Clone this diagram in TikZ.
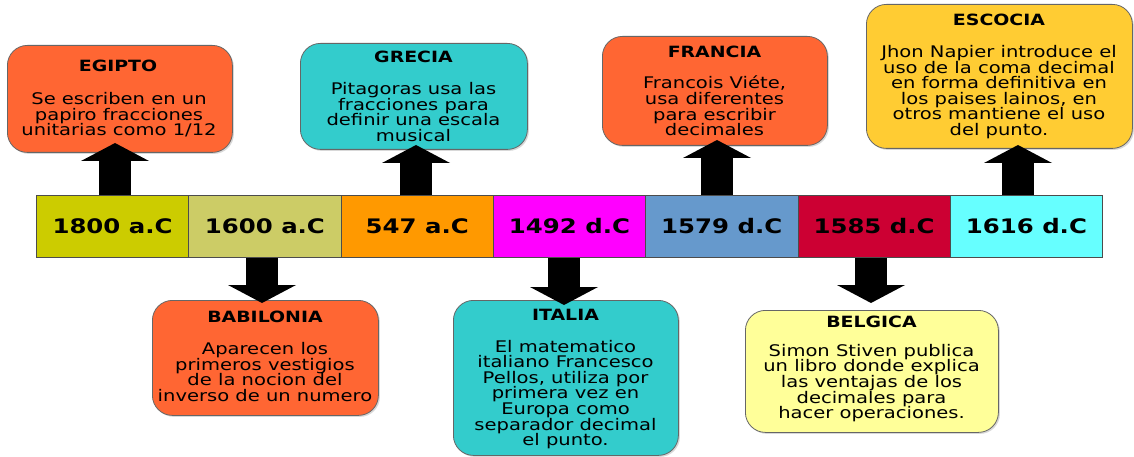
\documentclass[tikz,border=0pt]{standalone}
\usepackage{fontspec}
\setmainfont{DejaVu Sans}[FakeStretch=1.22]
\usetikzlibrary{arrows.meta,shadows}
\definecolor{corange}{HTML}{FF6633}
\definecolor{cteal}{HTML}{33CCCC}
\definecolor{cgold}{HTML}{FFCC33}
\definecolor{clight}{HTML}{FFFF99}
\definecolor{kA}{HTML}{CCCC00}
\definecolor{kB}{HTML}{CCCC66}
\definecolor{kC}{HTML}{FF9900}
\definecolor{kD}{HTML}{FF00FF}
\definecolor{kE}{HTML}{6699CC}
\definecolor{kF}{HTML}{CC0033}
\definecolor{kG}{HTML}{66FFFF}
\begin{document}
\begin{tikzpicture}[x=1pt,y=-1pt,
  cell/.style={draw=black!70, line width=0.8pt, minimum width=152.3pt, minimum height=62pt, inner sep=0pt, font=\bfseries\fontsize{20}{22}\selectfont, anchor=north west},
  infobox/.style={draw=black!60, line width=0.8pt, rounded corners=20pt, inner sep=0pt, anchor=north west, drop shadow={shadow xshift=1.5pt, shadow yshift=-1.5pt, opacity=0.3}},
  ttl/.style={font=\bfseries\fontsize{15.5}{17}\selectfont, inner sep=0pt},
  body/.style={font=\fontsize{16}{15.6}\selectfont, align=center, inner sep=0pt},
  bigarrow/.style={line width=32pt, -{Triangle[width=68pt,length=18pt,line width=0pt]}}
]
\useasboundingbox (0,0) rectangle (1134,457);
\fill[white] (0,0) rectangle (1134,457);

% timeline
\node[cell, fill=kA] (c1) at (36,195) {1800 a.C};
\node[cell, fill=kB] (c2) at (188.3,195) {1600 a.C};
\node[cell, fill=kC] (c3) at (340.6,195) {547 a.C};
\node[cell, fill=kD] (c4) at (492.9,195) {1492 d.C};
\node[cell, fill=kE] (c5) at (645.2,195) {1579 d.C};
\node[cell, fill=kF] (c6) at (797.5,195) {1585 d.C};
\node[cell, fill=kG] (c7) at (949.8,195) {1616 d.C};

% boxes top
\node[infobox, fill=corange, minimum width=225pt, minimum height=107pt] (bEG) at (7,45) {};
\node[ttl] (tiEG) at (118,66) {EGIPTO};
\node[body] (txEG) at (119,115) {Se escriben en un\\papiro fracciones\\unitarias como 1/12};

\node[infobox, fill=cteal, minimum width=227pt, minimum height=106pt] (bGR) at (300,43) {};
\node[ttl] (tiGR) at (413.5,57) {GRECIA};
\node[body] (txGR) at (413.5,112) {Pitagoras usa las\\fracciones para\\definir una escala\\musical};

\node[infobox, fill=corange, minimum width=225pt, minimum height=109pt] (bFR) at (602,36) {};
\node[ttl] (tiFR) at (714.5,52) {FRANCIA};
\node[body] (txFR) at (714.5,106) {Francois Viéte,\\usa diferentes\\para escribir\\decimales};

\node[infobox, fill=cgold, minimum width=266pt, minimum height=144pt] (bES) at (866,4) {};
\node[ttl] (tiES) at (999,20) {ESCOCIA};
\node[body] (txES) at (999,92) {Jhon Napier introduce el\\uso de la coma decimal\\en forma definitiva en\\los paises lainos, en\\otros mantiene el uso\\del punto.};

% boxes bottom
\node[infobox, fill=corange, minimum width=226pt, minimum height=115pt] (bBA) at (152,300) {};
\node[ttl] (tiBA) at (265,317) {BABILONIA};
\node[body] (txBA) at (265,372) {Aparecen los\\primeros vestigios\\de la nocion del\\inverso de un numero};

\node[infobox, fill=cteal, minimum width=225pt, minimum height=155pt] (bIT) at (453,300) {};
\node[ttl] (tiIT) at (565.5,315) {ITALIA};
\node[body] (txIT) at (565.5,394.5) {El matematico\\italiano Francesco\\Pellos, utiliza por\\primera vez en\\Europa como\\separador decimal\\el punto.};

\node[infobox, fill=clight, minimum width=253pt, minimum height=122pt] (bBE) at (745,310) {};
\node[ttl] (tiBE) at (871.5,322) {BELGICA};
\node[body] (txBE) at (871.5,383) {Simon Stiven publica\\un libro donde explica\\las ventajas de los\\decimales para\\hacer operaciones.};

% arrows
\coordinate (aEG) at (115,143);
\coordinate (aGR) at (416,145);
\coordinate (aFR) at (717,140);
\coordinate (aES) at (1018,145);
\coordinate (aBA) at (262,303);
\coordinate (aIT) at (564,305);
\coordinate (aBE) at (871,303);
\draw[bigarrow] (aEG |- c1.north) -- (aEG);
\draw[bigarrow] (aGR |- c3.north) -- (aGR);
\draw[bigarrow] (aFR |- c5.north) -- (aFR);
\draw[bigarrow] (aES |- c7.north) -- (aES);
\draw[bigarrow] (aBA |- c2.south) -- (aBA);
\draw[bigarrow] (aIT |- c4.south) -- (aIT);
\draw[bigarrow] (aBE |- c6.south) -- (aBE);
\end{tikzpicture}
\end{document}
